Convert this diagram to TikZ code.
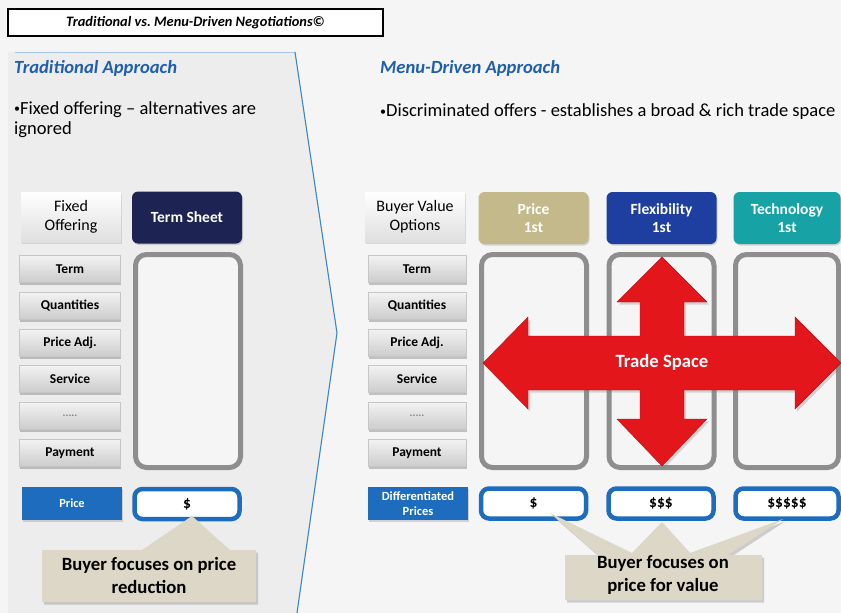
\documentclass[tikz,border=0pt]{standalone}
\usepackage{fontspec}
\setmainfont{Carlito}
\usetikzlibrary{shadows}
\frenchspacing

\definecolor{pagebg}{HTML}{F5F5F5}
\definecolor{panelbg}{HTML}{EDEDED}
\definecolor{panelline}{HTML}{3A86C8}
\definecolor{headblue}{HTML}{1F5FAF}
\definecolor{navy}{HTML}{1D2454}
\definecolor{khaki}{HTML}{C3B98A}
\definecolor{flexblue}{HTML}{1E3FA0}
\definecolor{teal}{HTML}{17A3A6}
\definecolor{btnblue}{HTML}{1E6CBE}
\definecolor{slotgrey}{HTML}{8E8E8E}
\definecolor{tradered}{HTML}{E3161C}
\definecolor{calloutbg}{HTML}{DCD7C6}

\newcommand\fsz[2]{\fontsize{#1}{#2}\selectfont}
\newcommand\smallbullet{\raisebox{1.5pt}{\fsz{12}{12}•}}

\begin{document}
\begin{tikzpicture}[x=1pt,y=-1pt,
  titlebox/.style={draw=black, line width=1.6pt, fill=white,
    minimum width=375, minimum height=27, inner sep=0pt,
    font=\fsz{14.4}{17}\bfseries\itshape},
  heading/.style={anchor=west, inner sep=0pt, text=headblue,
    font=\fsz{18.6}{22}\bfseries\itshape},
  bodytext/.style={anchor=west, inner sep=0pt, align=left,
    font=\fsz{18.5}{20}},
  optbox/.style={rectangle, minimum width=100, minimum height=50,
    inner sep=0pt, align=center, top color=white, bottom color=gray!25,
    drop shadow={shadow xshift=1pt, shadow yshift=-1.5pt, opacity=0.25},
    font=\fsz{16}{19}},
  headbox/.style={rectangle, rounded corners=6pt, minimum width=110,
    minimum height=52, inner sep=0pt, align=center, text=white,
    drop shadow={shadow xshift=1pt, shadow yshift=-1.5pt, opacity=0.3},
    font=\fsz{15.5}{18}\bfseries},
  rowbtn/.style={rectangle, minimum height=27, inner sep=0pt,
    top color=gray!10, bottom color=gray!40, draw=gray!45,
    drop shadow={shadow xshift=0.8pt, shadow yshift=-2.2pt, opacity=0.45},
    font=\fsz{13.5}{15}\bfseries},
  slot/.style={rectangle, draw=slotgrey, line width=5pt, rounded corners=11pt,
    fill=gray!8, minimum width=105, minimum height=213, inner sep=0pt},
  pricelabel/.style={rectangle, fill=btnblue, minimum width=100,
    minimum height=33, inner sep=0pt, align=center, text=white,
    drop shadow={shadow xshift=1pt, shadow yshift=-1.5pt, opacity=0.3},
    font=\fsz{12.4}{14}\bfseries},
  pricebox/.style={rectangle, draw=btnblue, line width=4.5pt,
    rounded corners=8pt, fill=white, minimum width=105, minimum height=30,
    inner sep=0pt, font=\fsz{15.5}{17}\bfseries},
  callout/.style={fill=calloutbg,
    drop shadow={shadow xshift=2pt, shadow yshift=-2.5pt, opacity=0.35}},
  callouttext/.style={inner sep=0pt, align=center,
    font=\fsz{18.7}{23}\bfseries},
  arrowshape/.style={fill=tradered, draw=tradered!80!black, line width=0.4pt,
    drop shadow={shadow xshift=2pt, shadow yshift=-2.5pt, opacity=0.3}},
  dotsrow/.style={text=gray, font=\fsz{11}{12}\bfseries},
]
\useasboundingbox (0,0) rectangle (841,613);
\fill[pagebg] (0,0) rectangle (841,613);

% left panel shaped as a chevron pointing to the right
\fill[panelbg] (8,52) -- (295,52) -- (337,333) -- (297,613) -- (8,613) -- cycle;
\draw[panelline!45, line width=1pt] (15,52) -- (295,52);
\draw[panelline, line width=1.1pt] (295,52) -- (337,333) -- (297,613);

% title
\node[titlebox] (title) at (195.5,22.5) {Traditional vs. Menu-Driven Negotiations©};

% section headings and bullet texts
\node[heading] (tradhead) at (14,68) {Traditional Approach};
\node[bodytext, anchor=north west] (tradtext) at (14,101)
  {\smallbullet Fixed offering – alternatives are\\ignored};
\node[heading] (menuhead) at (380,68) {Menu-Driven Approach};
\node[bodytext] (menutext) at (380,112)
  {\smallbullet Discriminated offers - establishes a broad \& rich trade space};

% ---------- traditional side ----------
\node[optbox] (fixed) at (71,217) {Fixed\\Offering};
\node[headbox, fill=navy] (termsheet) at (187,217.5) {Term Sheet};

\foreach \yy/\lab/\nm in {269/Term/lterm, 306/Quantities/lqty,
    343/Price Adj./ladj, 379/Service/lsvc,
    416/{\tikz[baseline]\node[dotsrow,inner sep=0pt]{.....};}/ldots, 453/Payment/lpay}
  \node[rowbtn, minimum width=101] (\nm) at (70,\yy) {\lab};

\node[slot] (lslot) at (188,361) {};
\node[pricelabel] (lprice) at (72,503.5) {Price};
\node[pricebox] (ldollar) at (187,504) {\$};

% callout under the single price
\fill[callout] (42,550) -- (142,550) -- (192,516) -- (230,550) -- (256,550)
  -- (256,602) -- (42,602) -- cycle;
\node[callouttext] (lcall) at (149,576) {Buyer focuses on price\\reduction};

% ---------- menu-driven side ----------
\node[optbox] (buyeropt) at (415,217) {Buyer Value\\Options};
\node[headbox, fill=khaki] (pricefirst) at (533.5,218) {Price\\1st};
\node[headbox, fill=flexblue] (flexfirst) at (661.5,218) {Flexibility\\1st};
\node[headbox, fill=teal, minimum width=107] (techfirst) at (787,218) {Technology\\1st};

\foreach \yy/\lab/\nm in {269/Term/rterm, 306/Quantities/rqty,
    343/Price Adj./radj, 379/Service/rsvc,
    416/{\tikz[baseline]\node[dotsrow,inner sep=0pt]{.....};}/rdots, 453/Payment/rpay}
  \node[rowbtn, minimum width=98] (\nm) at (417,\yy) {\lab};

\node[slot] (slotA) at (534,361) {};
\node[slot] (slotB) at (661.5,361) {};
\node[slot, minimum width=103] (slotC) at (787,361) {};

% trade space cross arrow
\filldraw[arrowshape] (483,363) -- (528,317) -- (528,336) -- (640,336)
  -- (640,302) -- (617,302) -- (662,257) -- (707,302) -- (684,302)
  -- (684,336) -- (795,336) -- (795,317) -- (841,363) -- (795,409)
  -- (795,390) -- (684,390) -- (684,419) -- (707,419) -- (662,466)
  -- (617,419) -- (640,419) -- (640,390) -- (528,390) -- (528,409) -- cycle;
\node[text=white, font=\fsz{18.7}{22}\bfseries] (tradespace) at (662,362) {Trade Space};

\node[pricelabel, font=\fsz{12.5}{15}\bfseries] (diffprice) at (418,503.5)
  {Differentiated\\Prices};
\node[pricebox] (dollarA) at (533.5,503.5) {\$};
\node[pricebox] (dollarB) at (661,503.5) {\$\$\$};
\node[pricebox, minimum width=103] (dollarC) at (787,503.5) {\$\$\$\$\$};

% callout pointing at the three prices
\fill[callout] (565,600) -- (565,555) -- (598,555) -- (550,513) -- (632,553)
  -- (662,522) -- (690,553) -- (783,519) -- (728,555) -- (762,555)
  -- (762,600) -- cycle;
\node[callouttext] (rcall) at (663,575) {Buyer focuses on\\price for value};
\end{tikzpicture}
\end{document}
